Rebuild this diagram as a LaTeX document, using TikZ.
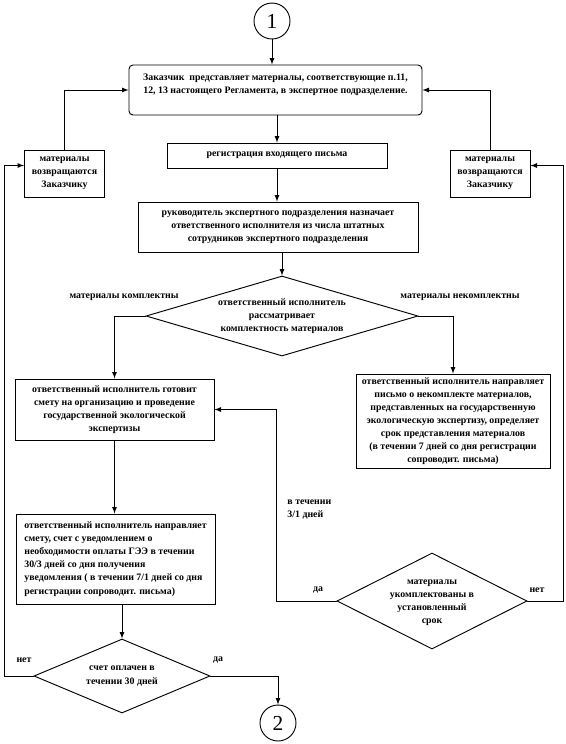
\documentclass[tikz,border=0pt]{standalone}
\usepackage{fontspec}
\setmainfont{Liberation Serif}
\usetikzlibrary{shapes.geometric}

\begin{document}
\begin{tikzpicture}[x=0.75pt,y=0.75pt,yscale=-1,xscale=1,line width=0.7pt,
  font=\fontsize{7.4}{9.8}\selectfont\bfseries,
  box/.style={draw,rectangle,inner sep=1pt,align=center},
  rhomb/.style={draw,diamond,inner sep=0pt,align=center},
  conn/.style={draw,circle,inner sep=0pt,minimum size=27pt,font=\fontsize{16}{18}\selectfont\mdseries},
  flow/.style={-latex}]
%set diagram left start at 0, and has height of 744
\useasboundingbox (0,0) rectangle (566,744);

%Shape: Circle [start]
\draw (272,21) node [conn] (start) {1};
%Shape: Rounded Rectangle [submit]
\draw (275.5,90) node [box,rounded corners=3pt,minimum width=219.75pt,minimum height=37.5pt] (submit) {Заказчик~ представляет материалы, соответствующие п.11,\\12, 13 настоящего Регламента, в экспертное подразделение.\\\mbox{}};
%Shape: Rectangle [back left]
\draw (64.5,173.5) node [box,minimum width=60pt,minimum height=35.25pt] (backl) {материалы\\возвращаются\\Заказчику};
%Shape: Rectangle [back right]
\draw (490,173.5) node [box,minimum width=60pt,minimum height=35.25pt] (backr) {материалы\\возвращаются\\Заказчику};
%Shape: Rectangle [reg]
\draw (277,155.5) node [box,minimum width=165pt,minimum height=18.75pt] (reg) {регистрация входящего письма};
%Shape: Rectangle [assign]
\draw (278,227) node [box,minimum width=210pt,minimum height=37.5pt] (assign) {руководитель экспертного подразделения назначает\\ответственного исполнителя из числа штатных\\сотрудников экспертного подразделения};
%Shape: Diamond [check]
\draw (282,316) node [rhomb,aspect=3.4,minimum width=204pt,minimum height=60pt] (check) {ответственный исполнитель\\рассматривает\\комплектность материалов};
%Shape: Rectangle [estimate]
\draw (114.5,409.5) node [box,minimum width=149.25pt,minimum height=45.75pt] (estimate) {ответственный исполнитель готовит\\смету на организацию и проведение\\государственной экологической\\экспертизы};
%Shape: Rectangle [letter]
\draw (453,421) node [box,minimum width=145.5pt,minimum height=70.5pt] (letter) {ответственный исполнитель направляет\\письмо о некомплекте материалов,\\представленных на государственную\\экологическую экспертизу, определяет\\срок представления материалов\\(в течении 7 дней со дня регистрации\\сопроводит. письма)};
%Shape: Rectangle [invoice]
\draw (115.5,559) node [box,align=left,minimum width=149.25pt,minimum height=67.5pt] (invoice) {ответственный исполнитель направляет\\смету, счет с уведомлением о\\необходимости оплаты ГЭЭ в течении\\30/3 дней со дня получения\\уведомления ( в течении 7/1 дней со дня\\регистрации сопроводит. письма)};
%Shape: Diamond [complete]
\draw (432,601) node [rhomb,aspect=2,minimum width=142.5pt,minimum height=72pt] (complete) {\mbox{}\\[-4pt]материалы\\укомплектованы в\\установленный\\срок};
%Shape: Diamond [paid]
\draw (122,676) node [rhomb,aspect=2.4,minimum width=132pt,minimum height=55.5pt] (paid) {счет оплачен в\\течении 30 дней};
%Shape: Circle [finish]
\draw (278,723) node [conn] (finish) {2};

% corners of the return lines
\coordinate (lrail) at (4,676);
\coordinate (rrail) at (563,601);
\coordinate (mrail) at (276,601);

%Straight Lines [id:flow]
\draw [flow] (start) -- (start |- submit.north);
\draw [flow] (submit.south -| reg.north) -- (reg.north);
\draw [flow] (reg) -- (reg |- assign.north);
\draw [flow] (assign.south -| check.north) -- (check.north);
\draw [flow] (backl.north) |- (submit.west);
\draw [flow] (backr.north) |- (submit.east);
\draw [flow] (check.west) -| (estimate.north);
\draw [flow] (check.east) -| (letter.north);
\draw [flow] (estimate) -- (estimate |- invoice.north);
\draw [flow] (invoice.south -| paid.north) -- (paid.north);
\draw [flow] (paid.east) -| (finish.north);
\draw [flow] (paid.west) -- (lrail) |- ([yshift=-6pt]backl.west);
\draw [flow] (complete.east) -- (rrail) |- ([yshift=-6pt]backr.east);
\draw [flow] (complete.west) -- (mrail) |- (estimate.east);

% Text Node
\draw (124,297) node [inner sep=0.75pt] (lblok) {материалы комплектны};
% Text Node
\draw (460,297) node [inner sep=0.75pt] (lblnok) {материалы некомплектны};
% Text Node
\draw (286,498) node [anchor=north west,inner sep=0.75pt,align=left] (lblterm) {в течении\\3/1 дней};
% Text Node
\draw (318,590) node [inner sep=0.75pt] (lblyes) {да};
% Text Node
\draw (537,590) node [inner sep=0.75pt] (lblno) {нет};
% Text Node
\draw (24,660) node [inner sep=0.75pt] (lblnopay) {нет};
% Text Node
\draw (218,660) node [inner sep=0.75pt] (lblyespay) {да};

\end{tikzpicture}
\end{document}
